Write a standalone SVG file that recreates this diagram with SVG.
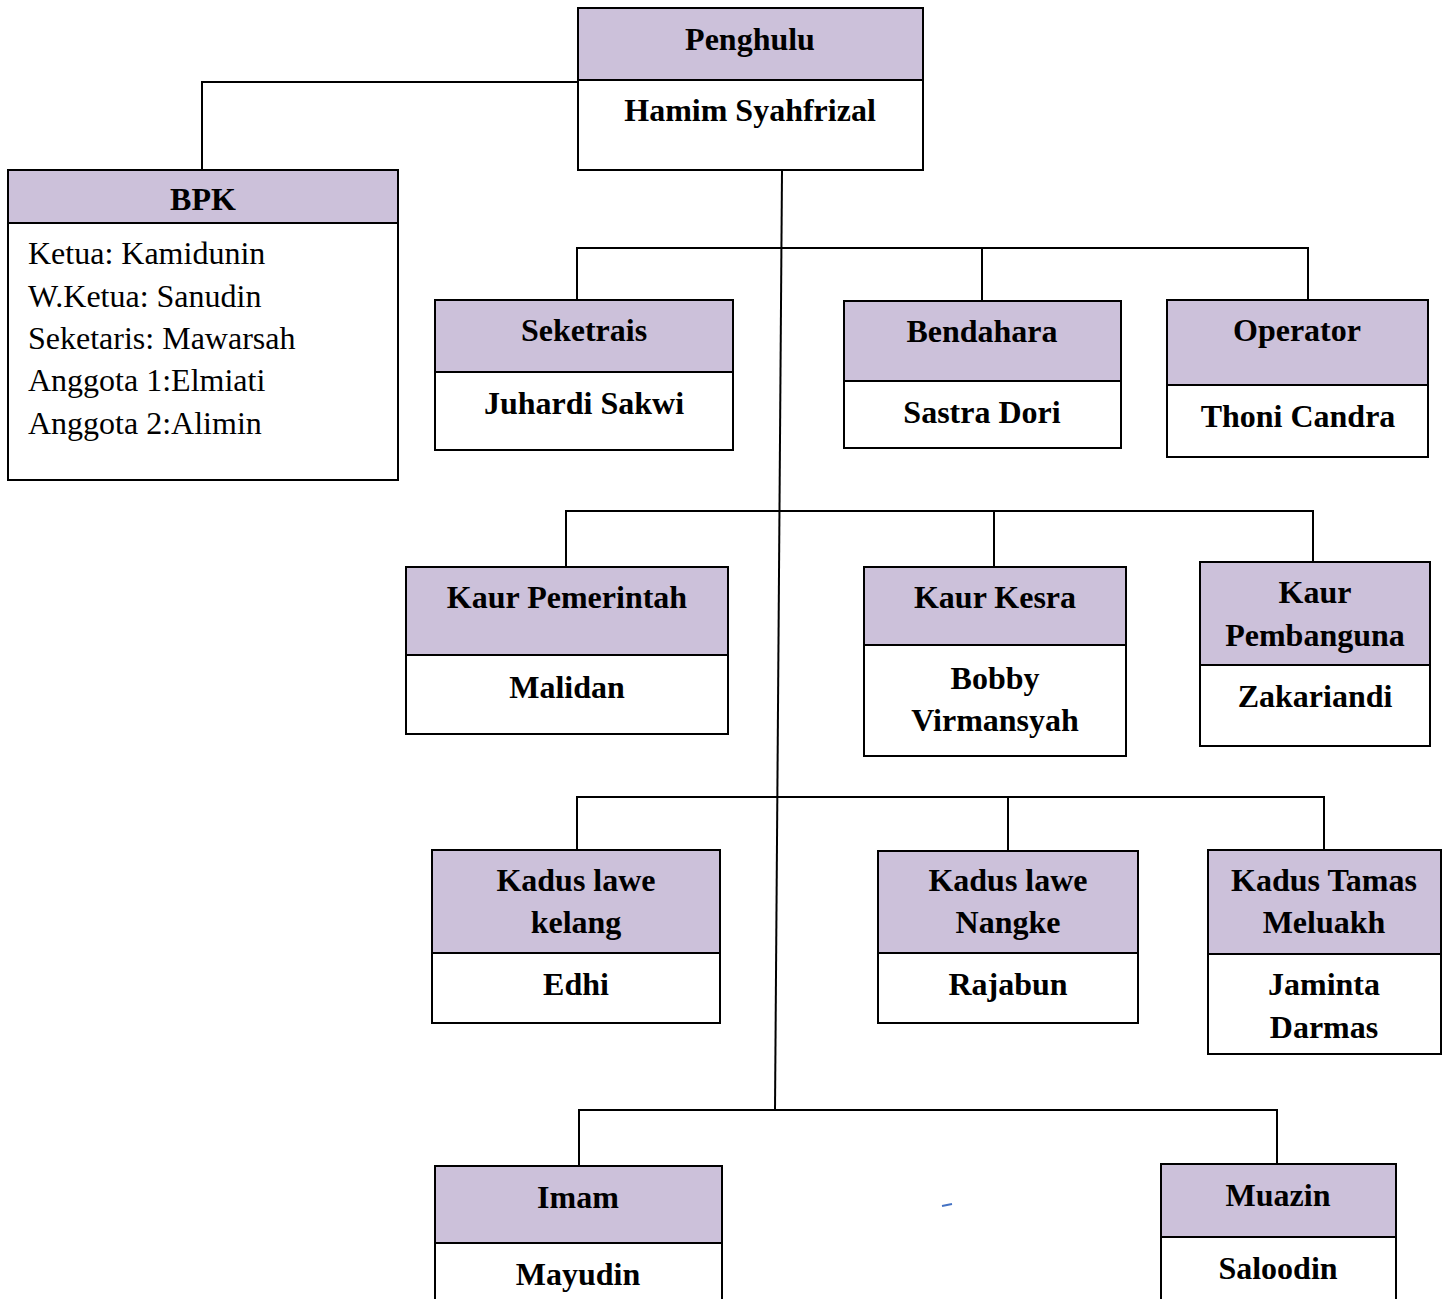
<svg xmlns="http://www.w3.org/2000/svg" width="1448" height="1299" viewBox="0 0 1448 1299">
<style>
.box{fill:#fff;stroke:#000;stroke-width:2}
.hd{fill:#CCC1DA;stroke:#000;stroke-width:2}
.t{font-family:"Liberation Serif","Times New Roman",serif;font-weight:bold;font-size:32px;text-anchor:middle;fill:#000}
.n{font-family:"Liberation Serif","Times New Roman",serif;font-size:32px;fill:#000}
.c{fill:none;stroke:#000;stroke-width:2}
</style>
<rect width="1448" height="1299" fill="#fff"/>
<g id="connectors">
<polyline class="c" points="578,82 202,82 202,170"/>
<line class="c" x1="782" y1="171" x2="775" y2="1110"/>
<polyline class="c" points="577,300 577,248 1308,248 1308,300"/>
<line class="c" x1="982" y1="248" x2="982" y2="301"/>
<polyline class="c" points="566,567 566,511 1313,511 1313,562"/>
<line class="c" x1="994" y1="511" x2="994" y2="567"/>
<polyline class="c" points="577,850 577,797 1324,797 1324,850"/>
<line class="c" x1="1008" y1="797" x2="1008" y2="851"/>
<polyline class="c" points="579,1166 579,1110 1277,1110 1277,1164"/>
<line x1="942" y1="1206" x2="952" y2="1204" stroke="#4472C4" stroke-width="2"/>
</g>
<g id="penghulu">
<rect class="box" x="578" y="8" width="345" height="162"/>
<rect class="hd" x="578" y="8" width="345" height="72"/>
<text class="t" x="750" y="50">Penghulu</text>
<text class="t" x="750" y="121">Hamim Syahfrizal</text>
</g>
<g id="bpk">
<rect class="box" x="8" y="170" width="390" height="310"/>
<rect class="hd" x="8" y="170" width="390" height="53"/>
<text class="t" x="203" y="210">BPK</text>
<text class="n" x="28" y="264">Ketua: Kamidunin</text>
<text class="n" x="28" y="307">W.Ketua: Sanudin</text>
<text class="n" x="28" y="349">Seketaris: Mawarsah</text>
<text class="n" x="28" y="391">Anggota 1:Elmiati</text>
<text class="n" x="28" y="434">Anggota 2:Alimin</text>
</g>
<g id="seketrais">
<rect class="box" x="435" y="300" width="298" height="150"/>
<rect class="hd" x="435" y="300" width="298" height="72"/>
<text class="t" x="584" y="341">Seketrais</text>
<text class="t" x="584" y="414">Juhardi Sakwi</text>
</g>
<g id="bendahara">
<rect class="box" x="844" y="301" width="277" height="147"/>
<rect class="hd" x="844" y="301" width="277" height="80"/>
<text class="t" x="982" y="342">Bendahara</text>
<text class="t" x="982" y="423">Sastra Dori</text>
</g>
<g id="operator">
<rect class="box" x="1167" y="300" width="261" height="157"/>
<rect class="hd" x="1167" y="300" width="261" height="85"/>
<text class="t" x="1297" y="341">Operator</text>
<text class="t" x="1298" y="427">Thoni Candra</text>
</g>
<g id="kaur-pemerintah">
<rect class="box" x="406" y="567" width="322" height="167"/>
<rect class="hd" x="406" y="567" width="322" height="88"/>
<text class="t" x="567" y="608">Kaur Pemerintah</text>
<text class="t" x="567" y="698">Malidan</text>
</g>
<g id="kaur-kesra">
<rect class="box" x="864" y="567" width="262" height="189"/>
<rect class="hd" x="864" y="567" width="262" height="78"/>
<text class="t" x="995" y="608">Kaur Kesra</text>
<text class="t" x="995" y="689">Bobby</text>
<text class="t" x="995" y="731">Virmansyah</text>
</g>
<g id="kaur-pembanguna">
<rect class="box" x="1200" y="562" width="230" height="184"/>
<rect class="hd" x="1200" y="562" width="230" height="103"/>
<text class="t" x="1315" y="603">Kaur</text>
<text class="t" x="1315" y="646">Pembanguna</text>
<text class="t" x="1315" y="707">Zakariandi</text>
</g>
<g id="kadus-lawe-kelang">
<rect class="box" x="432" y="850" width="288" height="173"/>
<rect class="hd" x="432" y="850" width="288" height="103"/>
<text class="t" x="576" y="891">Kadus lawe</text>
<text class="t" x="576" y="933">kelang</text>
<text class="t" x="576" y="995">Edhi</text>
</g>
<g id="kadus-lawe-nangke">
<rect class="box" x="878" y="851" width="260" height="172"/>
<rect class="hd" x="878" y="851" width="260" height="102"/>
<text class="t" x="1008" y="891">Kadus lawe</text>
<text class="t" x="1008" y="933">Nangke</text>
<text class="t" x="1008" y="995">Rajabun</text>
</g>
<g id="kadus-tamas-meluakh">
<rect class="box" x="1208" y="850" width="233" height="204"/>
<rect class="hd" x="1208" y="850" width="233" height="104"/>
<text class="t" x="1324" y="891">Kadus Tamas</text>
<text class="t" x="1324" y="933">Meluakh</text>
<text class="t" x="1324" y="995">Jaminta</text>
<text class="t" x="1324" y="1038">Darmas</text>
</g>
<g id="imam">
<rect class="box" x="435" y="1166" width="287" height="150"/>
<rect class="hd" x="435" y="1166" width="287" height="77"/>
<text class="t" x="578" y="1208">Imam</text>
<text class="t" x="578" y="1285">Mayudin</text>
</g>
<g id="muazin">
<rect class="box" x="1161" y="1164" width="235" height="150"/>
<rect class="hd" x="1161" y="1164" width="235" height="73"/>
<text class="t" x="1278" y="1206">Muazin</text>
<text class="t" x="1278" y="1279">Saloodin</text>
</g>
</svg>
